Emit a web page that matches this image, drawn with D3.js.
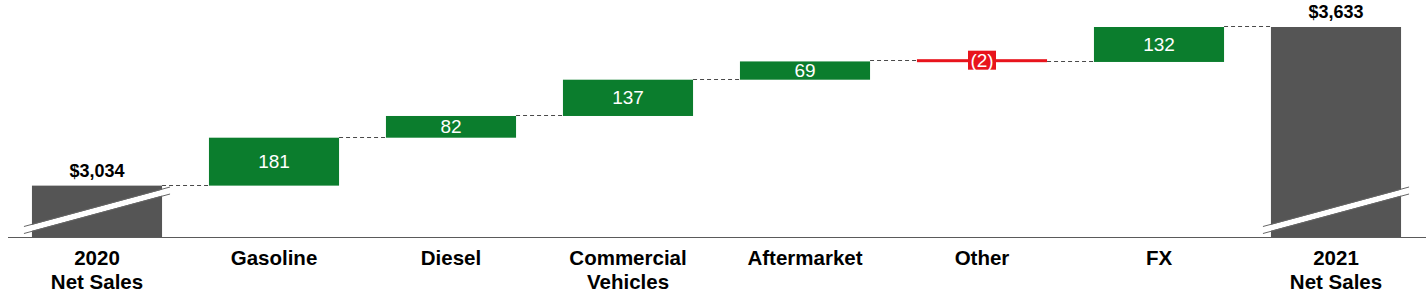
<!DOCTYPE html>
<html>
<head>
<meta charset="utf-8">
<script src="https://cdn.jsdelivr.net/npm/d3@7"></script>
<style>
  body { margin: 0; background: #ffffff; }
  svg { display: block; font-family: "Liberation Sans", Arial, sans-serif; }
</style>
</head>
<body>
<div id="chart"></div>
<script>
// Net sales bridge, 2020 -> 2021
var categories = ["2020 Net Sales", "Gasoline", "Diesel", "Commercial Vehicles", "Aftermarket", "Other", "FX", "2021 Net Sales"];
var categoryLines = [["2020", "Net Sales"], ["Gasoline"], ["Diesel"], ["Commercial", "Vehicles"], ["Aftermarket"], ["Other"], ["FX"], ["2021", "Net Sales"]];
var values = [3034, 181, 82, 137, 69, -2, 132, 3633];
var kinds = ["total", "delta", "delta", "delta", "delta", "delta", "delta", "total"];
var valueLabels = ["$3,034", "181", "82", "137", "69", "(2)", "132", "$3,633"];

var width = 1426, height = 307;
var baseY = 237;

// build the steps
var steps = [];
var running = 0;
values.forEach(function(v, i) {
    var s, e;
    if (kinds[i] === "total") { s = null; e = v; running = v; }
    else { s = running; e = running + v; running = e; }
    steps.push({ cat: categories[i], lines: categoryLines[i], value: v, kind: kinds[i], start: s, end: e, label: valueLabels[i] });
});

var svg = d3.select("#chart").append("svg")
    .attr("width", width)
    .attr("height", height);

var x = d3.scaleBand()
    .domain(categories)
    .range([8.5, 1424.5])
    .paddingInner(0.265)
    .paddingOuter(0.1325);

// broken axis: the bottom of the bars is not zero
var y = d3.scaleLinear()
    .domain([2840, 3633])
    .range([baseY, 27]);

var bw = x.bandwidth();

// connectors
for (var i = 0; i < steps.length - 1; i++) {
    svg.append("line")
        .attr("x1", x(steps[i].cat) + bw)
        .attr("x2", x(steps[i + 1].cat))
        .attr("y1", Math.round(y(steps[i].end)) - 0.5)
        .attr("y2", Math.round(y(steps[i].end)) - 0.5)
        .attr("stroke", "#4a4a4a")
        .attr("stroke-width", 1)
        .attr("stroke-dasharray", "4,3");
}

// bars
svg.selectAll(".bar")
    .data(steps)
    .enter().append("rect")
    .attr("class", "bar")
    .attr("x", function(d) { return x(d.cat); })
    .attr("width", bw)
    .attr("y", function(d) {
        if (d.kind === "total") return y(d.end);
        var top = Math.min(y(d.start), y(d.end)), h = Math.abs(y(d.start) - y(d.end));
        if (h < 3) return (top + h / 2) - 1.5 - 1;
        return top;
    })
    .attr("height", function(d) {
        if (d.kind === "total") return baseY - y(d.end);
        return Math.max(3, Math.abs(y(d.start) - y(d.end)));
    })
    .attr("fill", function(d) {
        if (d.kind === "total") return "#555555";
        return d.value >= 0 ? "#0b7d2d" : "#e8141c";
    });

// break markers on the total bars
steps.filter(function(d) { return d.kind === "total"; }).forEach(function(d) {
    var x0 = x(d.cat) - 8, x1 = x(d.cat) + bw + 8;
    var yl = baseY - 7, yr = baseY - 46.5, t = 3;
    svg.append("path")
        .attr("d", "M" + x0 + "," + (yl - t) + "L" + x1 + "," + (yr - t) + "L" + x1 + "," + (yr + t) + "L" + x0 + "," + (yl + t) + "Z")
        .attr("fill", "#ffffff");
    [-t - 0.5, t + 0.5].forEach(function(o) {
        svg.append("line")
            .attr("x1", x0).attr("y1", yl + o)
            .attr("x2", x1).attr("y2", yr + o)
            .attr("stroke", "#666666")
            .attr("stroke-width", 1);
    });
});

// axis line + category labels
var axis = svg.append("g")
    .attr("transform", "translate(0," + (baseY + 0.5) + ")")
    .call(d3.axisBottom(x).tickSize(0).tickSizeOuter(0));
axis.select(".domain").attr("stroke", "#5a5a5a").attr("d", "M8,0H1426");
axis.selectAll(".tick text").each(function(c) {
    var lines = categoryLines[categories.indexOf(c)];
    var t = d3.select(this).text(null)
        .attr("y", null)
        .attr("dy", null)
        .attr("fill", "#000")
        .style("font-size", "20.5px")
        .style("font-weight", "bold")
        .style("font-family", "'Liberation Sans', Arial, sans-serif");
    lines.forEach(function(l, k) {
        t.append("tspan").attr("x", 0).attr("y", 27.5 + k * 24).text(l);
    });
});

// value labels
steps.forEach(function(d) {
    var cx = x(d.cat) + bw / 2;
    if (d.kind === "total") {
        svg.append("text")
            .attr("x", cx)
            .attr("y", y(d.end) - 9)
            .attr("text-anchor", "middle")
            .style("font-size", "18px")
            .style("font-weight", "bold")
            .attr("fill", "#000")
            .text(d.label);
    } else {
        var cy = (y(d.start) + y(d.end)) / 2;
        if (d.value < 0) {
            cy = cy - 1.5;
            svg.append("rect")
                .attr("x", cx - 14)
                .attr("y", cy - 9.5)
                .attr("width", 28)
                .attr("height", 19)
                .attr("fill", "#e8141c");
        }
        svg.append("text")
            .attr("x", cx)
            .attr("y", cy + 6.5)
            .attr("text-anchor", "middle")
            .style("font-size", "19px")
            .attr("fill", "#ffffff")
            .text(d.label);
    }
});
</script>
</body>
</html>
